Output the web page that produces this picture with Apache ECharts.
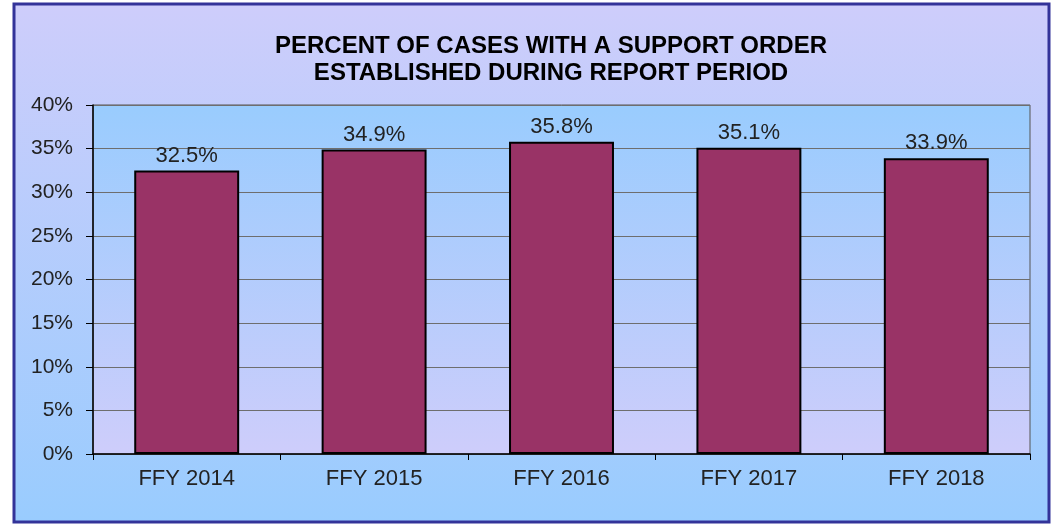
<!DOCTYPE html>
<html><head><meta charset="utf-8">
<script src="https://cdn.jsdelivr.net/npm/echarts@6/dist/echarts.min.js"></script>
<style>html,body{margin:0;padding:0;background:#fff}#c{width:1054px;height:527px}</style>
</head><body><div id="c"></div>
<script>
var titleLines = ['PERCENT OF CASES WITH A SUPPORT ORDER', 'ESTABLISHED DURING REPORT PERIOD'];
var categories = ['FFY 2014', 'FFY 2015', 'FFY 2016', 'FFY 2017', 'FFY 2018'];
var values = [32.5, 34.9, 35.8, 35.1, 33.9];
var yTicks = [0, 5, 10, 15, 20, 25, 30, 35, 40];

var chart = echarts.init(document.getElementById('c'), null, {renderer: 'canvas'});
var font = 'Liberation Sans, Arial, sans-serif';
chart.setOption({
  animation: false,
  backgroundColor: 'transparent',
  graphic: [
    {type: 'rect', z: -10, silent: true,
     shape: {x: 14, y: 4, width: 1035, height: 518},
     style: {
       fill: new echarts.graphic.LinearGradient(0, 0, 0, 1, [
         {offset: 0, color: '#cecdfb'}, {offset: 1, color: '#99ccfe'}]),
       stroke: '#333399', lineWidth: 3
     }}
  ],
  title: {
    text: titleLines.join('\n'),
    left: 546, top: 28, textAlign: 'center',
    textStyle: {fontFamily: font, fontWeight: 'bold', fontSize: 24, color: '#000', lineHeight: 27}
  },
  grid: {
    left: 93, right: 24, top: 105, bottom: 73,
    show: true,
    backgroundColor: new echarts.graphic.LinearGradient(0, 0, 0, 1, [
      {offset: 0, color: '#99ccfe'}, {offset: 1, color: '#cecdfb'}]),
    borderColor: '#555', borderWidth: 1
  },
  xAxis: {
    type: 'category', data: categories,
    axisLine: {lineStyle: {color: '#000', width: 1.5}},
    axisTick: {show: true, alignWithLabel: false, length: 6, lineStyle: {color: '#000'}},
    axisLabel: {fontFamily: font, fontSize: 22, color: '#222', margin: 14}
  },
  yAxis: {
    type: 'value', min: 0, max: 40, interval: 5,
    axisLine: {show: true, lineStyle: {color: '#000', width: 1.5}},
    axisTick: {show: true, length: 7, inside: false, lineStyle: {color: '#000'}},
    axisLabel: {fontFamily: font, fontSize: 21, color: '#222', margin: 20,
      formatter: function (v) { return yTicks.indexOf(v) >= 0 ? v + '%' : ''; }},
    splitLine: {show: true, lineStyle: {color: '#6e6e6e', width: 1}}
  },
  series: [{
    type: 'bar', data: values, barWidth: '56%',
    itemStyle: {color: '#993366', borderColor: '#000', borderWidth: 2},
    label: {show: true, position: 'top', distance: 4, fontFamily: font, fontSize: 22, color: '#222',
      formatter: function (p) { return p.value.toFixed(1) + '%'; }}
  }]
});
</script></body></html>
